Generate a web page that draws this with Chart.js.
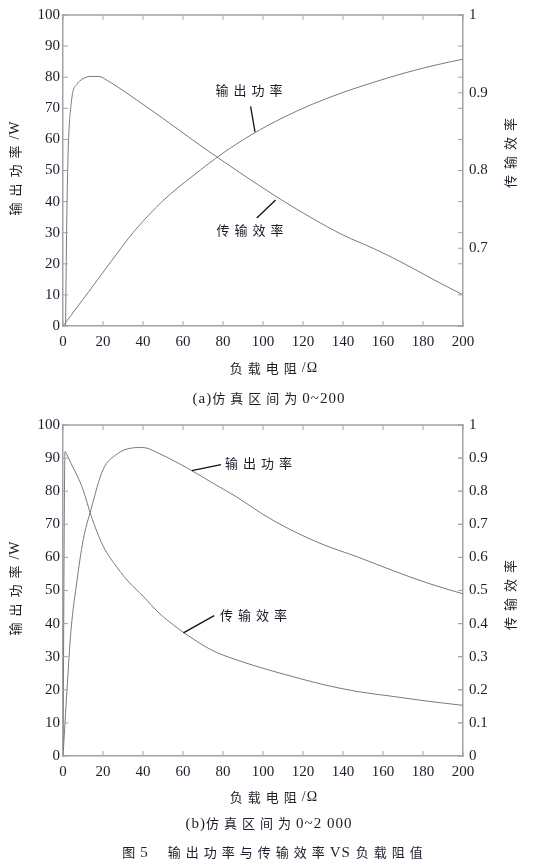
<!DOCTYPE html>
<html lang="zh">
<head>
<meta charset="UTF-8" />
<title>输出功率与传输效率 VS 负载阻值</title>
<script src="https://cdn.jsdelivr.net/npm/chart.js"></script>
<style>
  body { margin: 0; background: #fff; }
  .page { position: relative; width: 534px; height: 868px; overflow: hidden; }
  .box { position: absolute; left: 0; width: 534px; }
  #boxA { top: 0; height: 390px; }
  #boxB { top: 410px; height: 400px; }
  .cap {
    position: absolute; left: 0; width: 534px; text-align: center; white-space: pre;
    font-family: "Liberation Serif", "Times New Roman", serif, "Noto Sans CJK SC";
    font-size: 15px; line-height: 16px; letter-spacing: 1px; color: #1c1c2a;
  }
  .cap .zh { font-family: "Noto Sans CJK SC"; font-size: 13px; letter-spacing: 5px; }
</style>
</head>
<body>
<div class="page">
  <div class="box" id="boxA"><canvas id="chartA"></canvas></div>
  <div class="cap" style="top:390px;left:2px">(a)<span class="zh">仿真区间为</span>0~200</div>
  <div class="box" id="boxB"><canvas id="chartB"></canvas></div>
  <div class="cap" style="top:815px;left:2px">(b)<span class="zh">仿真区间为</span>0~2 000</div>
  <div class="cap" style="top:844px;left:8px"><span class="zh">图</span>5    <span class="zh">输出功率与传输效率</span>VS <span class="zh">负载阻值</span></div>
</div>

<script>
// (a) 仿真区间 0~200
const xA = [0, 1, 2, 4, 7, 10, 14, 18, 22, 27, 35, 50, 65, 80, 95, 110, 125, 140, 155, 170, 185, 200];
const powerA = [0, 0.85, 1.7, 3.4, 6.0, 8.6, 12.0, 15.5, 19.0, 23.3, 30.0, 40.3, 48.3, 55.6, 61.8, 67.0, 71.4, 75.1, 78.3, 81.2, 83.7, 85.8];
const effA = [0, 0.5, 0.755, 0.884, 0.911, 0.918, 0.921, 0.921, 0.916, 0.908, 0.894, 0.867, 0.839, 0.812, 0.786, 0.761, 0.738, 0.717, 0.7, 0.681, 0.66, 0.64];

// (b) 仿真区间 0~2000
const xB = [0, 1, 2, 4, 7, 10, 14, 20, 27, 33, 40, 48, 55, 63, 75, 87, 100, 113, 130, 147, 165, 183, 200];
const powerB = [0, 10, 20, 38, 53, 65, 74.5, 86.5, 91.2, 92.9, 93.2, 91.4, 89.3, 86.7, 82.4, 78.2, 73.0, 68.6, 63.9, 60.2, 56.0, 52.1, 49];
const effB = [0, 0.92, 0.91, 0.884, 0.848, 0.805, 0.727, 0.635, 0.57, 0.525, 0.483, 0.432, 0.397, 0.362, 0.318, 0.29, 0.265, 0.243, 0.216, 0.195, 0.18, 0.165, 0.153];

const xTicks = { min: 0, max: 200, step: 20 };
const powerTicks = { min: 0, max: 100, step: 10 };

const textColor = "#1c1c2a";
const axisColor = "#a3a3a3";
const curveColor = "#7a7a7a";
const serif = '"Liberation Serif", "Times New Roman", serif';
const zh = '"Noto Sans CJK SC"';

// 文字标注（左轴单位）
const notesA = [
  { text: "输出功率", at: [93, 75.8], line: [[93.8, 70.6], [96, 62.4]] },
  { text: "传输效率", at: [93.5, 30.7], line: [[96.9, 34.7], [106.3, 40.5]] },
];
const notesB = [
  { text: "输出功率", at: [97.8, 88.5], line: [[64.4, 86.2], [79, 88]] },
  { text: "传输效率", at: [95.2, 42.7], line: [[60.2, 37.2], [75.6, 42.4]] },
];

// runs: [文字, 字体, 字距]，整体居中
function drawRuns(ctx, runs, x, y, rot) {
  ctx.save();
  ctx.translate(x, y);
  if (rot) ctx.rotate(rot);
  ctx.textAlign = "left";
  ctx.textBaseline = "middle";
  let total = 0;
  const widths = runs.map((r) => {
    ctx.font = r[1];
    ctx.letterSpacing = r[2] + "px";
    const w = ctx.measureText(r[0]).width;
    total += w;
    return w;
  });
  let cx = -total / 2;
  runs.forEach((r, i) => {
    ctx.font = r[1];
    ctx.letterSpacing = r[2] + "px";
    ctx.fillText(r[0], cx, 0);
    cx += widths[i];
  });
  ctx.restore();
}

const framePlugin = {
  id: "frame",
  afterDraw(chart, args, o) {
    const { ctx, chartArea: a, scales } = chart;
    ctx.save();
    // 上边框
    ctx.strokeStyle = axisColor;
    ctx.lineWidth = 1.5;
    ctx.beginPath();
    ctx.moveTo(a.left, a.top);
    ctx.lineTo(a.right + 0.75, a.top);
    ctx.stroke();

    // 向内刻度
    const t = 5;
    ctx.lineWidth = 1;
    ctx.beginPath();
    scales.x.ticks.forEach((tk) => {
      const px = scales.x.getPixelForValue(tk.value);
      ctx.moveTo(px, a.bottom);
      ctx.lineTo(px, a.bottom - t);
      ctx.moveTo(px, a.top);
      ctx.lineTo(px, a.top + t);
    });
    scales.y.ticks.forEach((tk) => {
      const py = scales.y.getPixelForValue(tk.value);
      ctx.moveTo(a.left, py);
      ctx.lineTo(a.left + t, py);
      ctx.moveTo(a.right, py);
      ctx.lineTo(a.right - t, py);
    });
    scales.y1.ticks.forEach((tk) => {
      const py = scales.y1.getPixelForValue(tk.value);
      ctx.moveTo(a.right, py);
      ctx.lineTo(a.right - t, py);
    });
    ctx.stroke();

    // 标注
    ctx.fillStyle = textColor;
    ctx.strokeStyle = "#111";
    ctx.lineWidth = 1.3;
    o.notes.forEach((n) => {
      drawRuns(ctx, [[n.text, "13px " + zh, 5]],
        scales.x.getPixelForValue(n.at[0]) + 2.5, scales.y.getPixelForValue(n.at[1]), 0);
      ctx.beginPath();
      ctx.moveTo(scales.x.getPixelForValue(n.line[0][0]), scales.y.getPixelForValue(n.line[0][1]));
      ctx.lineTo(scales.x.getPixelForValue(n.line[1][0]), scales.y.getPixelForValue(n.line[1][1]));
      ctx.stroke();
    });

    // 坐标轴标题
    drawRuns(ctx, [["输出功率", "13px " + zh, 6], ["/W", "14px " + serif, 1]], 15, o.leftY, -Math.PI / 2);
    drawRuns(ctx, [["传输效率", "13px " + zh, 6]], 510, o.rightY, -Math.PI / 2);
    drawRuns(ctx, [["负载电阻", "13px " + zh, 5], ["/Ω", "14px " + serif, 1]], 274, o.xTitleY, 0);
    ctx.restore();
  },
};

function makeChart(id, height, top, xs, power, eff, y1min, notes, titles) {
  const canvas = document.getElementById(id);
  canvas.width = 534;
  canvas.height = height;
  const tickFont = { family: serif, size: 15 };
  const noGrid = { display: false, drawTicks: false };
  return new Chart(canvas.getContext("2d"), {
    type: "line",
    data: {
      datasets: [
        {
          label: "输出功率",
          data: xs.map((x, i) => ({ x: x, y: power[i] })),
          yAxisID: "y",
          borderColor: curveColor,
          borderWidth: 1,
          pointRadius: 0,
          cubicInterpolationMode: "monotone",
        },
        {
          label: "传输效率",
          data: xs.map((x, i) => ({ x: x, y: eff[i] })),
          yAxisID: "y1",
          borderColor: curveColor,
          borderWidth: 1,
          pointRadius: 0,
          cubicInterpolationMode: "monotone",
        },
      ],
    },
    options: {
      responsive: false,
      animation: false,
      layout: { padding: { top: top, left: 0, right: 0, bottom: 0 } },
      plugins: {
        legend: { display: false },
        tooltip: { enabled: false },
        frame: Object.assign({ notes: notes }, titles),
      },
      scales: {
        x: {
          type: "linear",
          min: xTicks.min,
          max: xTicks.max,
          grid: noGrid,
          border: { color: axisColor, width: 1.5 },
          ticks: { stepSize: xTicks.step, font: tickFont, color: textColor, padding: 7, maxRotation: 0 },
          afterFit: (s) => { s.height = titles.xAxisH; },
        },
        y: {
          position: "left",
          min: powerTicks.min,
          max: powerTicks.max,
          grid: noGrid,
          border: { color: axisColor, width: 1.5 },
          ticks: { stepSize: powerTicks.step, font: tickFont, color: textColor, padding: 3 },
          afterFit: (s) => { s.width = 63; },
        },
        y1: {
          position: "right",
          min: y1min,
          max: 1,
          grid: noGrid,
          border: { color: axisColor, width: 1.5 },
          ticks: {
            stepSize: 0.1,
            font: tickFont,
            color: textColor,
            padding: 6,
            callback: (v) => (y1min > 0 && Math.abs(v - y1min) < 1e-9 ? "" : String(+v.toFixed(1))),
          },
          afterFit: (s) => { s.width = 71; },
        },
      },
    },
    plugins: [framePlugin],
  });
}

makeChart("chartA", 390, 14, xA, powerA, effA, 0.6, notesA,
  { leftY: 168, rightY: 150, xTitleY: 368, xAxisH: 64 });
makeChart("chartB", 400, 13, xB, powerB, effB, 0, notesB,
  { leftY: 178, rightY: 182, xTitleY: 387, xAxisH: 54 });
</script>
</body>
</html>
